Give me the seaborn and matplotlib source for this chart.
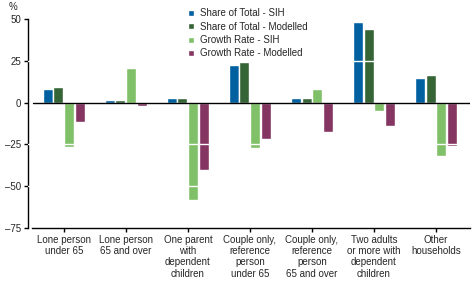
import numpy as np
import pandas as pd
import matplotlib
matplotlib.use("Agg")
import matplotlib.pyplot as plt
import seaborn as sns

categories = ["Lone person\nunder 65", "Lone person\n65 and over", "One parent\nwith\ndependent\nchildren",
              "Couple only,\nreference\nperson\nunder 65", "Couple only,\nreference\nperson\n65 and over",
              "Two adults\nor more with\ndependent\nchildren", "Other\nhouseholds"]
series = ["Share of Total - SIH", "Share of Total - Modelled", "Growth Rate - SIH", "Growth Rate - Modelled"]
share_sih = [8, 1.5, 2.5, 22.5, 3, 48, 15]
share_mod = [9.5, 1.5, 3, 24, 2.5, 44, 16.5]
growth_sih = [-26.5, 20.5, -58, -27, 8, -5, -32]
growth_mod = [-11.5, -2, -40, -22, -17.5, -14, -26]
colors = ["#0060a0", "#356437", "#80c068", "#843562"]

rows = []
for s, vals in zip(series, [share_sih, share_mod, growth_sih, growth_mod]):
    for c, v in zip(categories, vals):
        rows.append({"cat": c, "series": s, "value": v})
df = pd.DataFrame(rows)

sns.set_style("white")
plt.rcParams["font.family"] = ["Liberation Sans", "DejaVu Sans"]
plt.rcParams["font.size"] = 7

fig = plt.figure(figsize=(4.72, 2.83), dpi=100)
ax = fig.add_axes([0.059, 0.194, 0.937, 0.739])
sns.barplot(data=df, x="cat", y="value", hue="series", palette=colors, width=0.7, gap=0.08,
            ax=ax, zorder=2, legend=True, saturation=1)

for y in [25, -25, -50]:
    ax.axhline(y, color="white", lw=1, zorder=3)

xl = (-0.58, 6.55)
ax.set_xlim(*xl)
ax.set_ylim(-75, 50)
ax.axhline(0, xmin=0.012, color="black", lw=1.0, zorder=4)
ax.set_yticks([50, 25, 0, -25, -50, -75])
ax.set_yticklabels(["50", "25", "0", "–25", "–50", "–75"])
ax.set_xlabel("")
ax.set_ylabel("")
for s in ["top", "right"]:
    ax.spines[s].set_visible(False)
ax.spines["left"].set_color("black")
ax.spines["bottom"].set_color("black")
ax.spines["left"].set_linewidth(1)
ax.spines["bottom"].set_linewidth(1)
ax.spines["bottom"].set_bounds(xl[0] + 0.07, xl[1])
ax.tick_params(axis="y", length=3, width=1, pad=2, color="black", left=True, labelsize=7)
ax.tick_params(axis="x", length=3, width=1, pad=2, color="black", bottom=True, labelsize=7)
for lbl in ax.get_xticklabels():
    lbl.set_linespacing(1.15)

fig.text(9 / 472, 1 - 2 / 283, "%", fontsize=7, ha="left", va="top")

leg = ax.legend(loc="upper left", bbox_to_anchor=(0.354, 1.07), frameon=False, fontsize=7,
                handlelength=0.6, handleheight=0.6, handletextpad=0.6, labelspacing=0.35,
                borderaxespad=0)

fig.savefig("out.png", dpi=100)
